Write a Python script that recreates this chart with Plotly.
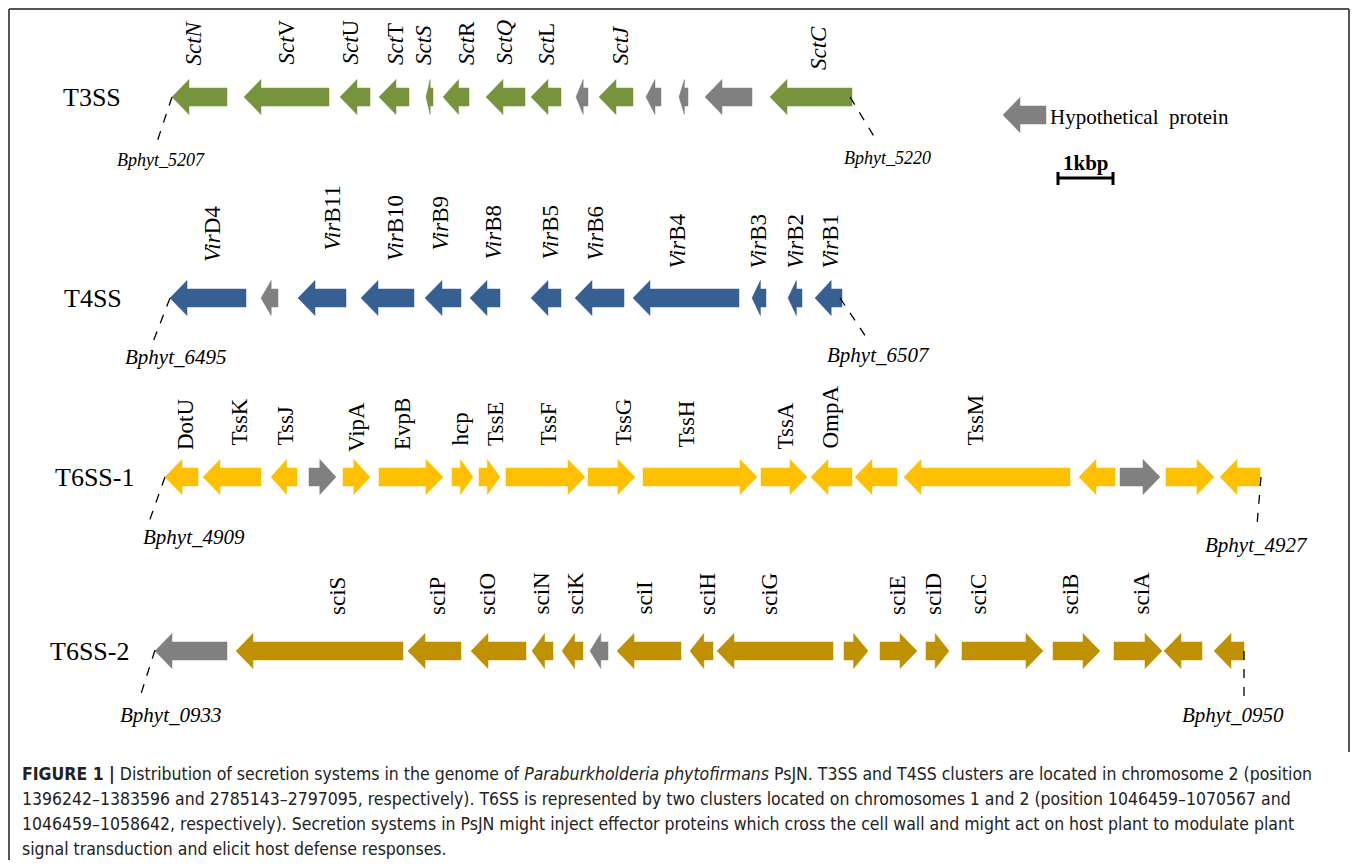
import plotly.graph_objects as go

PAGE_OFFSET = 8  # default body margin of the page
W, H = 1358 - 2 * PAGE_OFFSET, 868 - 2 * PAGE_OFFSET

# ---- colours per cluster ----
C_T3 = "#77933C"
C_T4 = "#376092"
C_T61 = "#FFC000"
C_T62 = "#BF9000"
C_HYP = "#808080"

# ---- T3SS (start, end, strand, hypothetical?) ----
t3_start = [172, 244, 340, 379, 426, 443, 486, 531, 576, 599, 646, 679, 705, 770]
t3_end = [227, 329, 370, 409, 433, 469, 525, 561, 588, 633, 661, 688, 752, 852]
t3_strand = [-1] * 14
t3_hyp = [0, 0, 0, 0, 0, 0, 0, 0, 1, 0, 1, 1, 1, 0]
t3_labels = ["<i>SctN</i>", "<i>Sct</i>V", "<i>Sct</i>U", "<i>Sct</i>T", "<i>SctS</i>",
             "<i>Sct</i>R", "<i>SctQ</i>", "<i>Sct</i>L", "", "<i>SctJ</i>", "", "", "", "<i>SctC</i>"]
t3_label_x = [193, 286, 350, 395, 423, 466, 504, 546, None, 620, None, None, None, 818]
t3_label_bottom = [68, 67, 67, 67, 67, 67, 67, 67, None, 67, None, None, None, 72]

# ---- T4SS ----
t4_start = [170, 261, 298, 361, 425, 470, 531, 575, 633, 752, 788, 815]
t4_end = [246, 278, 346, 414, 461, 500, 561, 624, 739, 766, 802, 842]
t4_strand = [-1] * 12
t4_hyp = [0, 1, 0, 0, 0, 0, 0, 0, 0, 0, 0, 0]
t4_labels = ["<i>Vir</i>D4", "", "<i>Vir</i>B11", "<i>Vir</i>B10", "<i>Vir</i>B9", "<i>Vir</i>B8",
             "<i>Vir</i>B5", "<i>Vir</i>B6", "<i>Vir</i>B4", "<i>Vir</i>B3", "<i>Vir</i>B2", "<i>Vir</i>B1"]
t4_label_x = [212, None, 332, 395, 440, 493, 550, 595, 677, 758, 795, 830]
t4_label_bottom = [264, None, 253, 263, 253, 262, 262, 263, 271, 271, 271, 271]

# ---- T6SS-1 ----
t61_start = [165, 203, 271, 309, 343, 379, 452, 479, 506, 588, 643, 761, 811, 855, 904, 1079, 1120, 1166, 1220]
t61_end = [198, 261, 297, 336, 370, 443, 473, 500, 585, 635, 757, 807, 852, 897, 1070, 1115, 1160, 1214, 1260]
t61_strand = [-1, -1, -1, 1, 1, 1, 1, 1, 1, 1, 1, 1, -1, -1, -1, -1, 1, 1, -1]
t61_hyp = [0, 0, 0, 1, 0, 0, 0, 0, 0, 0, 0, 0, 0, 0, 0, 0, 1, 0, 0]
t61_labels = ["DotU", "TssK", "TssJ", "", "VipA", "EvpB", "hcp", "TssE", "TssF", "TssG", "TssH",
              "TssA", "OmpA", "", "TssM", "", "", "", ""]
t61_label_x = [185, 239, 285, None, 356, 402, 460, 495, 548, 623, 686, 785, 830, None, 975,
               None, None, None, None]
t61_label_bottom = [452, 448, 448, None, 454, 452, 448, 448, 448, 448, 450, 452, 451, None, 448,
                    None, None, None, None]

# ---- T6SS-2 ----
t62_start = [155, 236, 408, 471, 532, 562, 590, 617, 690, 717, 844, 880, 926, 962, 1053, 1114, 1164, 1214]
t62_end = [227, 403, 461, 526, 553, 583, 608, 681, 713, 833, 868, 917, 949, 1043, 1100, 1162, 1202, 1244]
t62_strand = [-1, -1, -1, -1, -1, -1, -1, -1, -1, -1, 1, 1, 1, 1, 1, 1, -1, -1]
t62_hyp = [1, 0, 0, 0, 0, 0, 1, 0, 0, 0, 0, 0, 0, 0, 0, 0, 0, 0]
t62_labels = ["", "sciS", "sciP", "sciO", "sciN", "sciK", "", "sciI", "sciH", "sciG", "",
              "sciE", "sciD", "sciC", "sciB", "sciA", "", ""]
t62_label_x = [None, 337, 437, 487, 541, 575, None, 644, 707, 769, None, 897, 933, 978, 1070, 1141,
               None, None]
t62_label_bottom = [None, 617, 617, 617, 617, 617, None, 617, 617, 617, None, 617, 617, 617, 617, 617,
                    None, None]

# ---- track metadata ----
track_names = ["T3SS", "T4SS", "T6SS-1", "T6SS-2"]
track_name_x = [61, 62, 53, 48]
track_y = [97, 298, 477, 651]
track_colors = [C_T3, C_T4, C_T61, C_T62]

# locus tags
locus_text = ["Bphyt_5207", "Bphyt_5220", "Bphyt_6495", "Bphyt_6507",
              "Bphyt_4909", "Bphyt_4927", "Bphyt_0933", "Bphyt_0950"]
locus_x = [161, 887, 175, 878, 194, 1256, 170, 1233]
locus_y = [160, 158, 357, 355, 537, 545, 715, 715]
locus_size = [18, 18, 21, 21, 21, 21, 21, 21]
leader_x0 = [172, 850, 170, 840, 165, 1261, 155, 1244]
leader_y0 = [97, 97, 298, 298, 477, 477, 650, 651]
leader_x1 = [157, 878, 153, 870, 149, 1257, 140, 1244]
leader_y1 = [142, 143, 342, 343, 522, 525, 697, 698]

# legend / scale
legend_arrow = (1003, 1046, 115)
legend_text = "Hypothetical  protein"
scale_kbp_px = 55
scale_x0 = 1058
scale_y = 178

caption_lines = [
    "<b>FIGURE 1 |</b> Distribution of secretion systems in the genome of <i>Paraburkholderia phytofirmans</i> PsJN. T3SS and T4SS clusters are located in chromosome 2 (position",
    "1396242–1383596 and 2785143–2797095, respectively). T6SS is represented by two clusters located on chromosomes 1 and 2 (position 1046459–1070567 and",
    "1046459–1058642, respectively). Secretion systems in PsJN might inject effector proteins which cross the cell wall and might act on host plant to modulate plant",
    "signal transduction and elicit host defense responses.",
]
caption_y = [774, 799, 824, 849]

SERIF = "Liberation Serif, Times New Roman, serif"
NARROW = "DejaVu Sans Condensed, Liberation Sans Narrow, sans-serif"

SHAFT_H = 9.0
HEAD_H = 17.5
HEAD_L = 17.0
GENE_FONT = 23


def arrow_poly(a, b, strand, yc):
    length = b - a
    hl = min(HEAD_L, length * 0.6)
    if strand < 0:
        xs = [a, a + hl, a + hl, b, b, a + hl, a + hl, a]
    else:
        xs = [b, b - hl, b - hl, a, a, b - hl, b - hl, b]
    ys = [yc, yc - HEAD_H, yc - SHAFT_H, yc - SHAFT_H, yc + SHAFT_H, yc + SHAFT_H, yc + HEAD_H, yc]
    return xs, ys


fig = go.Figure()

tracks = [
    (t3_start, t3_end, t3_strand, t3_hyp, t3_labels, t3_label_x, t3_label_bottom),
    (t4_start, t4_end, t4_strand, t4_hyp, t4_labels, t4_label_x, t4_label_bottom),
    (t61_start, t61_end, t61_strand, t61_hyp, t61_labels, t61_label_x, t61_label_bottom),
    (t62_start, t62_end, t62_strand, t62_hyp, t62_labels, t62_label_x, t62_label_bottom),
]

annotations = []
shapes = []

for ti, (st, en, sd, hy, lab, lx, lb) in enumerate(tracks):
    yc = track_y[ti]
    for i in range(len(st)):
        col = C_HYP if hy[i] else track_colors[ti]
        xs, ys = arrow_poly(st[i], en[i], sd[i], yc)
        fig.add_trace(go.Scatter(x=xs, y=ys, mode="lines", fill="toself", fillcolor=col,
                                 line=dict(color=col, width=0.5), hoverinfo="skip", showlegend=False))
        if lab[i]:
            annotations.append(dict(x=lx[i], y=lb[i], text=lab[i], textangle=-90, showarrow=False,
                                    xanchor="center", yanchor="bottom",
                                    font=dict(family=SERIF, size=GENE_FONT, color="black")))
    annotations.append(dict(x=track_name_x[ti], y=yc, text=track_names[ti], showarrow=False,
                            xanchor="left", yanchor="middle",
                            font=dict(family=SERIF, size=26, color="black")))

for i in range(len(locus_text)):
    annotations.append(dict(x=locus_x[i], y=locus_y[i], text="<i>%s</i>" % locus_text[i], showarrow=False,
                            xanchor="center", yanchor="middle",
                            font=dict(family=SERIF, size=locus_size[i], color="black")))
    shapes.append(dict(type="line", x0=leader_x0[i], y0=leader_y0[i], x1=leader_x1[i], y1=leader_y1[i],
                       line=dict(color="black", width=1.3, dash="dash")))

# legend arrow
lxs, lys = arrow_poly(legend_arrow[0], legend_arrow[1], -1, legend_arrow[2])
fig.add_trace(go.Scatter(x=lxs, y=lys, mode="lines", fill="toself", fillcolor=C_HYP,
                         line=dict(color=C_HYP, width=0.5), hoverinfo="skip", showlegend=False))
annotations.append(dict(x=legend_arrow[1] + 2, y=legend_arrow[2] + 2, text=legend_text, showarrow=False,
                        xanchor="left", yanchor="middle",
                        font=dict(family=SERIF, size=21, color="black")))

# scale bar
shapes.append(dict(type="line", x0=scale_x0, y0=scale_y, x1=scale_x0 + scale_kbp_px, y1=scale_y,
                   line=dict(color="black", width=3)))
for xx in (scale_x0, scale_x0 + scale_kbp_px):
    shapes.append(dict(type="line", x0=xx, y0=scale_y - 6, x1=xx, y1=scale_y + 7,
                       line=dict(color="black", width=3)))
annotations.append(dict(x=scale_x0 + scale_kbp_px / 2, y=scale_y - 15, text="<b>1kbp</b>", showarrow=False,
                        xanchor="center", yanchor="middle",
                        font=dict(family=SERIF, size=21, color="black")))

# caption
for ly, txt in zip(caption_y, caption_lines):
    annotations.append(dict(x=20, y=ly, text=txt, showarrow=False, xanchor="left", yanchor="middle",
                            font=dict(family=NARROW, size=17.5, color="#222222")))

# frame (page-pixel coordinates)
shapes.append(dict(type="line", x0=9, y0=9, x1=1349, y1=9, line=dict(color="#555555", width=2)))
shapes.append(dict(type="line", x0=9, y0=9, x1=9, y1=860, line=dict(color="#555555", width=2)))
shapes.append(dict(type="line", x0=1349, y0=9, x1=1349, y1=752, line=dict(color="#555555", width=2)))

fig.update_layout(
    width=W, height=H,
    margin=dict(l=0, r=0, t=0, b=0),
    paper_bgcolor="white", plot_bgcolor="white",
    xaxis=dict(range=[PAGE_OFFSET, W + PAGE_OFFSET], visible=False, fixedrange=True),
    yaxis=dict(range=[H + PAGE_OFFSET, PAGE_OFFSET], visible=False, fixedrange=True),
    annotations=annotations, shapes=shapes,
    showlegend=False,
)

fig.write_html("out.html", config={"displayModeBar": False})
